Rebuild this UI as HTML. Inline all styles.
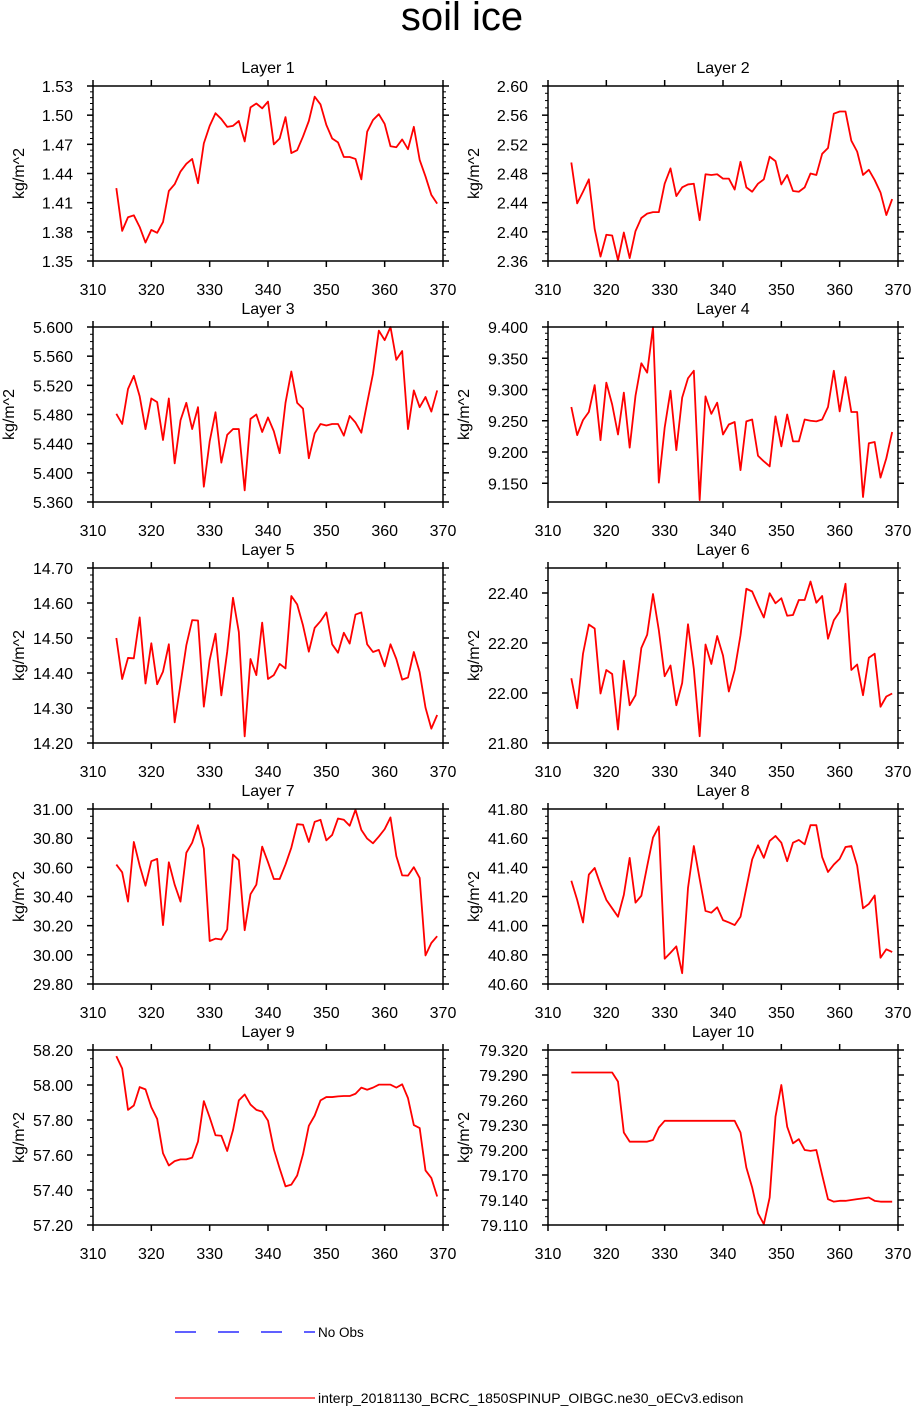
<!DOCTYPE html>
<html><head><meta charset="utf-8"><style>
html,body{margin:0;padding:0;background:#fff;}
svg{display:block;font-family:"Liberation Sans",Arial,sans-serif;}
</style></head><body>
<svg id="chart" width="913" height="1406" viewBox="0 0 913 1406" xmlns="http://www.w3.org/2000/svg">
<text x="462" y="30" font-size="40" text-anchor="middle">soil ice</text>
<g>
<line x1="175" y1="1332" x2="315" y2="1332" stroke="#0000ff" stroke-width="1.2" stroke-dasharray="21,22"/>
<text x="318" y="1337" font-size="13.5">No Obs</text>
<line x1="175" y1="1398" x2="315" y2="1398" stroke="#ff0000" stroke-width="1.2"/>
<text x="318" y="1403" font-size="14">interp_20181130_BCRC_1850SPINUP_OIBGC.ne30_oECv3.edison</text>
</g>
</svg>
<script>
const years = [];
for (let y = 314; y <= 369; y++) years.push(y);
const xTicks = [310,320,330,340,350,360,370];
const layer1 = [1.425,1.381,1.395,1.397,1.385,1.369,1.382,1.379,1.390,1.422,1.429,1.442,1.450,1.455,1.430,1.471,1.489,1.502,1.496,1.488,1.489,1.494,1.473,1.508,1.512,1.507,1.514,1.470,1.476,1.498,1.461,1.464,1.478,1.494,1.519,1.511,1.490,1.476,1.472,1.457,1.457,1.455,1.434,1.483,1.495,1.501,1.491,1.468,1.467,1.475,1.465,1.488,1.454,1.437,1.418,1.409];
const layer2 = [2.495,2.439,2.455,2.472,2.404,2.366,2.396,2.395,2.361,2.399,2.364,2.401,2.419,2.425,2.427,2.427,2.466,2.487,2.449,2.461,2.465,2.466,2.416,2.479,2.478,2.479,2.473,2.473,2.458,2.496,2.461,2.455,2.466,2.472,2.503,2.497,2.465,2.478,2.456,2.455,2.461,2.480,2.478,2.507,2.515,2.562,2.565,2.565,2.525,2.510,2.478,2.485,2.471,2.454,2.423,2.445];
const layer3 = [5.481,5.467,5.515,5.533,5.505,5.460,5.502,5.497,5.445,5.502,5.413,5.472,5.496,5.460,5.490,5.381,5.443,5.483,5.414,5.452,5.460,5.460,5.376,5.474,5.480,5.456,5.476,5.457,5.427,5.496,5.539,5.496,5.488,5.420,5.454,5.467,5.465,5.467,5.467,5.451,5.478,5.469,5.455,5.496,5.536,5.595,5.582,5.600,5.555,5.567,5.460,5.513,5.490,5.504,5.484,5.513];
const layer4 = [9.272,9.227,9.251,9.264,9.307,9.219,9.311,9.276,9.228,9.295,9.207,9.290,9.342,9.327,9.400,9.151,9.239,9.298,9.203,9.287,9.318,9.330,9.123,9.289,9.261,9.279,9.228,9.244,9.248,9.171,9.249,9.252,9.194,9.185,9.177,9.257,9.209,9.260,9.217,9.217,9.252,9.250,9.249,9.252,9.272,9.330,9.265,9.320,9.264,9.264,9.128,9.214,9.216,9.159,9.190,9.232];
const layer5 = [14.500,14.383,14.443,14.442,14.559,14.370,14.485,14.368,14.404,14.482,14.259,14.368,14.479,14.551,14.550,14.304,14.437,14.512,14.336,14.460,14.615,14.517,14.219,14.440,14.394,14.544,14.383,14.394,14.426,14.413,14.620,14.596,14.536,14.461,14.529,14.548,14.573,14.482,14.458,14.515,14.484,14.567,14.573,14.482,14.460,14.466,14.419,14.482,14.440,14.381,14.387,14.460,14.402,14.301,14.241,14.280];
const layer6 = [22.059,21.939,22.157,22.274,22.258,21.998,22.092,22.076,21.854,22.129,21.951,21.991,22.180,22.233,22.396,22.251,22.067,22.110,21.951,22.040,22.275,22.096,21.827,22.194,22.116,22.228,22.150,22.006,22.092,22.231,22.417,22.406,22.352,22.302,22.399,22.359,22.379,22.309,22.312,22.372,22.372,22.446,22.361,22.388,22.217,22.291,22.325,22.437,22.092,22.114,21.991,22.141,22.157,21.945,21.986,21.998];
const layer7 = [30.619,30.566,30.365,30.774,30.612,30.474,30.642,30.658,30.204,30.635,30.481,30.365,30.700,30.769,30.889,30.728,30.095,30.111,30.105,30.174,30.688,30.649,30.169,30.416,30.481,30.742,30.635,30.520,30.520,30.619,30.735,30.896,30.892,30.774,30.912,30.926,30.785,30.822,30.935,30.926,30.885,30.995,30.857,30.797,30.765,30.811,30.862,30.942,30.677,30.545,30.543,30.601,30.527,29.996,30.081,30.128];
const layer8 = [41.308,41.177,41.022,41.350,41.396,41.281,41.177,41.119,41.061,41.211,41.465,41.158,41.205,41.408,41.604,41.680,40.773,40.814,40.858,40.674,41.258,41.546,41.320,41.101,41.089,41.126,41.038,41.022,41.004,41.061,41.258,41.454,41.551,41.465,41.581,41.615,41.569,41.442,41.569,41.588,41.558,41.689,41.689,41.470,41.368,41.419,41.458,41.539,41.546,41.412,41.119,41.149,41.207,40.780,40.838,40.819];
const layer9 = [58.165,58.094,57.858,57.883,57.988,57.975,57.873,57.806,57.610,57.540,57.565,57.575,57.575,57.585,57.677,57.908,57.815,57.713,57.710,57.623,57.742,57.912,57.946,57.888,57.858,57.848,57.796,57.633,57.523,57.421,57.431,57.483,57.604,57.767,57.825,57.912,57.931,57.931,57.935,57.937,57.937,57.950,57.985,57.973,57.985,58.002,58.002,58.002,57.985,58.004,57.925,57.771,57.754,57.512,57.469,57.363];
const layer10 = [79.293,79.293,79.293,79.293,79.293,79.293,79.293,79.293,79.282,79.221,79.210,79.210,79.210,79.210,79.212,79.227,79.235,79.235,79.235,79.235,79.235,79.235,79.235,79.235,79.235,79.235,79.235,79.235,79.235,79.221,79.179,79.155,79.124,79.111,79.143,79.240,79.278,79.228,79.208,79.213,79.200,79.199,79.200,79.170,79.141,79.138,79.139,79.139,79.140,79.141,79.142,79.143,79.139,79.138,79.138,79.138];
const seriesList = [layer1,layer2,layer3,layer4,layer5,layer6,layer7,layer8,layer9,layer10];
const yMins = [1.35,2.36,5.36,9.12,14.20,21.80,29.80,40.60,57.20,79.11];
const yMaxs = [1.53,2.60,5.60,9.40,14.70,22.50,31.00,41.80,58.20,79.32];
const tickStarts = [1.35,2.36,5.36,9.15,14.20,21.80,29.80,40.60,57.20,79.11];
const tickSteps = [0.03,0.04,0.04,0.05,0.1,0.2,0.2,0.2,0.2,0.03];
const tickDecimals = [2,2,3,3,2,2,2,2,2,3];
const minorDivs = [5,4,4,5,5,4,4,4,4,3];

const NS = 'http://www.w3.org/2000/svg';
const svg = document.getElementById('chart');
function mk(tag, attrs, parent){ const e=document.createElementNS(NS,tag); for(const k in attrs) e.setAttribute(k,attrs[k]); parent.appendChild(e); return e; }

const PW = 350, PH = 175;
for (let p = 0; p < 10; p++) {
  const col = p % 2, row = Math.floor(p / 2);
  const L = col === 0 ? 93 : 548, T = 86 + row * 241;
  const ymin = yMins[p], ymax = yMaxs[p];
  const xs = v => L + (v - 310) / 60 * PW;
  const ys = v => T + PH - (v - ymin) / (ymax - ymin) * PH;
  const g = mk('g', {}, svg);
  
  
  const title = mk('text', {x: L + PW / 2, y: T - 13, 'font-size': 16, 'text-anchor': 'middle'}, g);
  
  
  title.textContent = 'Layer ' + (p + 1);
  const yOff = tickDecimals[p] === 3 ? 79 : 69;
  const ylab = mk('text', {transform: 'translate(' + (L - yOff) + ',' + (T + PH / 2) + ') rotate(-90)', 'font-size': 16, 'text-anchor': 'middle'}, g);
  
  
  ylab.textContent = 'kg/m^2';
  xTicks.forEach(t => {
    const x = xs(t);
    const tb = mk('line', {x1: x, y1: T, x2: x, y2: T - 6, stroke: '#000', 'stroke-width': 1.5}, g);
    
    
    const tk = mk('line', {x1: x, y1: T + PH, x2: x, y2: T + PH + 6, stroke: '#000', 'stroke-width': 1.5}, g);
    
    
    const lb = mk('text', {x: x, y: T + PH + 34, 'font-size': 16, 'text-anchor': 'middle'}, g);
    
    
    lb.textContent = t;
  });
  const step = tickSteps[p];
  const minor = step / minorDivs[p];
  for (let k = 0; ; k++) {
    const v = tickStarts[p] + k * minor;
    if (v > ymax + 1e-9) break;
    const y = ys(v);
    const isMajor = k % minorDivs[p] === 0;
    const len = isMajor ? 6 : 3;
    const a = mk('line', {x1: L, y1: y, x2: L - len, y2: y, stroke: '#000', 'stroke-width': isMajor ? 1.5 : 1}, g);
    
    
    const b = mk('line', {x1: L + PW, y1: y, x2: L + PW + len, y2: y, stroke: '#000', 'stroke-width': isMajor ? 1.5 : 1}, g);
    
    
    if (isMajor) {
      const lb = mk('text', {x: L - 20, y: y + 6, 'font-size': 16, 'text-anchor': 'end'}, g);
      
      
      lb.textContent = v.toFixed(tickDecimals[p]);
    }
  }
  const data = seriesList[p];
  const pts = data.map((v, i) => xs(years[i]).toFixed(2) + ',' + ys(v).toFixed(2)).join(' ');
  const line = mk('polyline', {points: pts, fill: 'none', stroke: '#ff0000', 'stroke-width': 1.8, 'stroke-linejoin': 'round'}, g);
  
  
  const fr = mk('rect', {x: L, y: T, width: PW, height: PH, fill: 'none', stroke: '#000', 'stroke-width': 1.5}, g);
  
  
}
</script>
</body></html>
